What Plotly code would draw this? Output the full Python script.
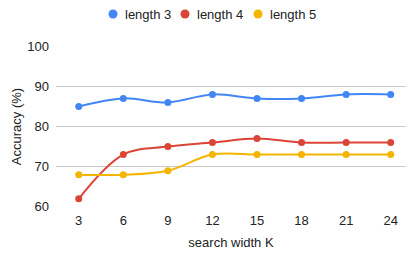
import plotly.graph_objects as go

search_width = [3, 6, 9, 12, 15, 18, 21, 24]
length3 = [85, 87, 86, 88, 87, 87, 88, 88]
length4 = [62, 73, 75, 76, 77, 76, 76, 76]
length5 = [68, 68, 69, 73, 73, 73, 73, 73]
series_names = ["length 3", "length 4", "length 5"]
y_ticks = [60, 70, 80, 90, 100]

colors = ["#4285F4", "#DB4437", "#F4B400"]
font = "Arial, Liberation Sans, sans-serif"

W, H = 406, 258
ML, MR, MT, MB = 56, 0, 46, 51
plot_w, plot_h = W - ML - MR, H - MT - MB

fig = go.Figure()
for name, vals, c in zip(series_names, [length3, length4, length5], colors):
    fig.add_trace(go.Scatter(
        x=search_width, y=vals, mode="lines+markers", name=name,
        line=dict(color=c, width=2, shape="spline", smoothing=1),
        marker=dict(color=c, size=7), showlegend=False, cliponaxis=False,
    ))

# Custom legend (dot + label), Google-Charts style
legend_px_y = 14
legend_dot_px = [113, 185, 258]
py = (H - MB - legend_px_y) / plot_h
shapes, annotations = [], []
for name, c, dx in zip(series_names, colors, legend_dot_px):
    px = (dx - ML) / plot_w
    shapes.append(dict(type="circle", xref="paper", yref="paper",
                       xsizemode="pixel", ysizemode="pixel",
                       xanchor=px, yanchor=py, x0=-4.5, x1=4.5, y0=-4.5, y1=4.5,
                       fillcolor=c, line=dict(width=0)))
    annotations.append(dict(text=name, xref="paper", yref="paper",
                            x=(dx + 10 - ML) / plot_w, y=py, xanchor="left", yanchor="middle",
                            showarrow=False, font=dict(size=13, color="#222222")))

fig.update_layout(
    width=W, height=H,
    margin=dict(l=ML, r=MR, t=MT, b=MB, autoexpand=False),
    paper_bgcolor="white", plot_bgcolor="white",
    font=dict(family=font, size=13, color="#222222"),
    showlegend=False,
    shapes=shapes, annotations=annotations,
    xaxis=dict(range=[1.47, 25.03], tickvals=search_width, showgrid=False,
               zeroline=False, showline=False, ticks="", automargin=False,
               ticklabelstandoff=4,
               title=dict(text="search width K", font=dict(size=13, color="#222222"), standoff=10)),
    yaxis=dict(range=[59.95, 100.05], tickvals=y_ticks, showgrid=True, gridcolor="#cccccc",
               gridwidth=1, zeroline=False, showline=False, ticks="", automargin=False,
               ticklabelstandoff=6,
               title=dict(text="Accuracy (%)", font=dict(size=13, color="#222222"), standoff=2)),
)

fig.write_html("out.html", config={"displayModeBar": False},
               post_script="document.body.style.margin='0';")
